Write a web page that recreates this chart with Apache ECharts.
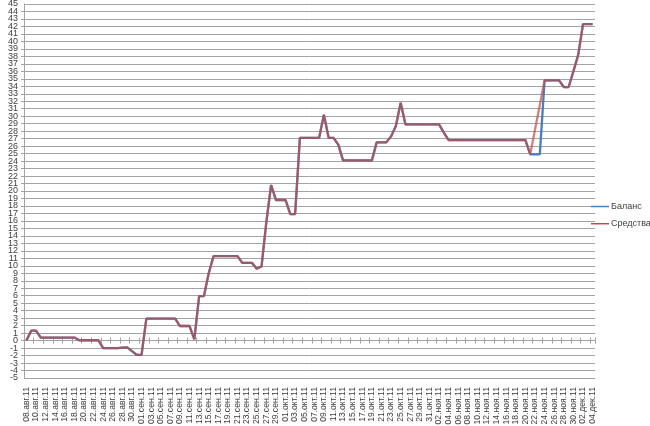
<!DOCTYPE html>
<html><head><meta charset="utf-8">
<script src="https://cdn.jsdelivr.net/npm/echarts@6/dist/echarts.min.js"></script>
<style>html,body{margin:0;padding:0;background:#fff}#c{width:650px;height:426px}</style>
</head><body><div id="c"></div>
<script>
const categories = [
'08.авг.11','09.авг.11','10.авг.11','11.авг.11','12.авг.11','13.авг.11','14.авг.11','15.авг.11','16.авг.11','17.авг.11','18.авг.11','19.авг.11','20.авг.11','21.авг.11','22.авг.11','23.авг.11','24.авг.11','25.авг.11','26.авг.11','27.авг.11','28.авг.11','29.авг.11','30.авг.11','31.авг.11',
'01.сен.11','02.сен.11','03.сен.11','04.сен.11','05.сен.11','06.сен.11','07.сен.11','08.сен.11','09.сен.11','10.сен.11','11.сен.11','12.сен.11','13.сен.11','14.сен.11','15.сен.11','16.сен.11','17.сен.11','18.сен.11','19.сен.11','20.сен.11','21.сен.11','22.сен.11','23.сен.11','24.сен.11','25.сен.11','26.сен.11','27.сен.11','28.сен.11','29.сен.11','30.сен.11',
'01.окт.11','02.окт.11','03.окт.11','04.окт.11','05.окт.11','06.окт.11','07.окт.11','08.окт.11','09.окт.11','10.окт.11','11.окт.11','12.окт.11','13.окт.11','14.окт.11','15.окт.11','16.окт.11','17.окт.11','18.окт.11','19.окт.11','20.окт.11','21.окт.11','22.окт.11','23.окт.11','24.окт.11','25.окт.11','26.окт.11','27.окт.11','28.окт.11','29.окт.11','30.окт.11','31.окт.11',
'01.ноя.11','02.ноя.11','03.ноя.11','04.ноя.11','05.ноя.11','06.ноя.11','07.ноя.11','08.ноя.11','09.ноя.11','10.ноя.11','11.ноя.11','12.ноя.11','13.ноя.11','14.ноя.11','15.ноя.11','16.ноя.11','17.ноя.11','18.ноя.11','19.ноя.11','20.ноя.11','21.ноя.11','22.ноя.11','23.ноя.11','24.ноя.11','25.ноя.11','26.ноя.11','27.ноя.11','28.ноя.11','29.ноя.11','30.ноя.11',
'01.дек.11','02.дек.11','03.дек.11','04.дек.11'
];
const seriesNames = ['Баланс', 'Средства'];
const yMin = -5, yMax = 45, yStep = 1;

const balance = [
0, 1.33, 1.33, 0.4, 0.4, 0.4, 0.4, 0.4, 0.4, 0.4, 0.4,
0.05, 0.05, 0.05, 0.05, 0.05, -1, -1, -1, -1, -0.95, -0.9, -1.4, -1.9, -1.9,
2.95, 2.95, 2.95, 2.95, 2.95, 2.95, 2.95, 1.95, 1.95, 1.95, 0.15,
5.95, 5.95, 9, 11.3, 11.3, 11.3, 11.3, 11.3, 11.3,
10.4, 10.4, 10.4, 9.6, 9.9, 15.8, 20.8, 18.8, 18.8, 18.8, 16.9, 16.9,
27.1, 27.1, 27.1, 27.1, 27.1, 30.2, 27.1, 27.1, 26.2,
24.1, 24.1, 24.1, 24.1, 24.1, 24.1, 24.1, 26.5, 26.5, 26.5, 27.3, 28.7, 31.8,
28.9, 28.9, 28.9, 28.9, 28.9, 28.9, 28.9, 28.9, 27.8,
26.8, 26.8, 26.8, 26.8, 26.8, 26.8, 26.8, 26.8, 26.8, 26.8, 26.8, 26.8, 26.8, 26.8, 26.8, 26.8, 26.8,
24.9, 24.9, 24.9, 34.8, 34.8, 34.8, 34.8, 33.9, 33.9, 36, 38.2, 42.3, 42.3, 42.3
];
const funds = [
0, 1.33, 1.33, 0.4, 0.4, 0.4, 0.4, 0.4, 0.4, 0.4, 0.4,
0.05, 0.05, 0.05, 0.05, 0.05, -1, -1, -1, -1, -0.95, -0.9, -1.4, -1.9, -1.9,
2.95, 2.95, 2.95, 2.95, 2.95, 2.95, 2.95, 1.95, 1.95, 1.95, 0.15,
5.95, 5.95, 9, 11.3, 11.3, 11.3, 11.3, 11.3, 11.3,
10.4, 10.4, 10.4, 9.6, 9.9, 15.8, 20.8, 18.8, 18.8, 18.8, 16.9, 16.9,
27.1, 27.1, 27.1, 27.1, 27.1, 30.2, 27.1, 27.1, 26.2,
24.1, 24.1, 24.1, 24.1, 24.1, 24.1, 24.1, 26.5, 26.5, 26.5, 27.3, 28.7, 31.8,
28.9, 28.9, 28.9, 28.9, 28.9, 28.9, 28.9, 28.9, 27.8,
26.8, 26.8, 26.8, 26.8, 26.8, 26.8, 26.8, 26.8, 26.8, 26.8, 26.8, 26.8, 26.8, 26.8, 26.8, 26.8, 26.8,
24.9, null, null, 34.8, 34.8, 34.8, 34.8, 33.9, 33.9, 36, 38.2, 42.3, 42.3, 42.3
];

const FONT = 'Liberation Sans, Arial, sans-serif';
const GRID = '#a3a3a3';
const TXT = '#404040';
const yLabel = {fontSize: 9, margin: 6, color: TXT, fontFamily: FONT};

const chart = echarts.init(document.getElementById('c'), null, {renderer: 'canvas'});
chart.setOption({
  animation: false,
  textStyle: {fontFamily: FONT},
  grid: {left: 24, right: 55, top: 4, bottom: 48, containLabel: false, outerBoundsMode: 'none'},
  legend: {
    orient: 'vertical', left: 591, top: 202, padding: 0,
    icon: 'rect', itemWidth: 18, itemHeight: 1.5, itemGap: 8.2,
    data: seriesNames,
    itemStyle: {opacity: 1},
    textStyle: {fontSize: 9, color: TXT, fontFamily: FONT, padding: [0, 0, 0, -3]}
  },
  xAxis: [
    {
      type: 'category', data: categories, boundaryGap: true, position: 'bottom',
      axisLine: {show: true, onZero: true, lineStyle: {color: GRID, width: 1}},
      axisTick: {show: true, interval: 1, length: 3, lineStyle: {color: GRID}},
      axisLabel: {interval: 1, rotate: 90, fontSize: 8.6, margin: 9, color: TXT, fontFamily: FONT, hideOverlap: false}
    },
    {
      type: 'category', data: categories, boundaryGap: true, position: 'top',
      axisLine: {show: false, onZero: true},
      axisTick: {show: true, interval: 1, length: 3, lineStyle: {color: GRID}},
      axisLabel: {show: false}
    }
  ],
  yAxis: [
    {
      type: 'value', min: yMin, max: yMax, interval: yStep, position: 'left',
      axisLine: {show: true, lineStyle: {color: GRID}},
      axisTick: {show: true, length: 3, lineStyle: {color: GRID}},
      splitLine: {show: true, lineStyle: {color: GRID, width: 1}},
      axisLabel: yLabel
    },
    {
      type: 'value', min: yMin, max: yMax, interval: yMax - yMin, position: 'left', offset: 0,
      axisLine: {show: false}, axisTick: {show: false}, splitLine: {show: false},
      axisLabel: Object.assign({showMinLabel: true, showMaxLabel: true}, yLabel)
    }
  ],
  series: [
    {
      name: seriesNames[0], type: 'line', data: balance, symbol: 'none',
      itemStyle: {color: '#4a7ebb'},
      lineStyle: {color: '#4a7ebb', width: 2.3}
    },
    {
      name: seriesNames[1], type: 'line', data: funds, symbol: 'none', connectNulls: true,
      itemStyle: {color: '#be4b48'},
      lineStyle: {color: '#be4b48', width: 2.3, opacity: 0.7}
    }
  ]
});
</script>
</body></html>
